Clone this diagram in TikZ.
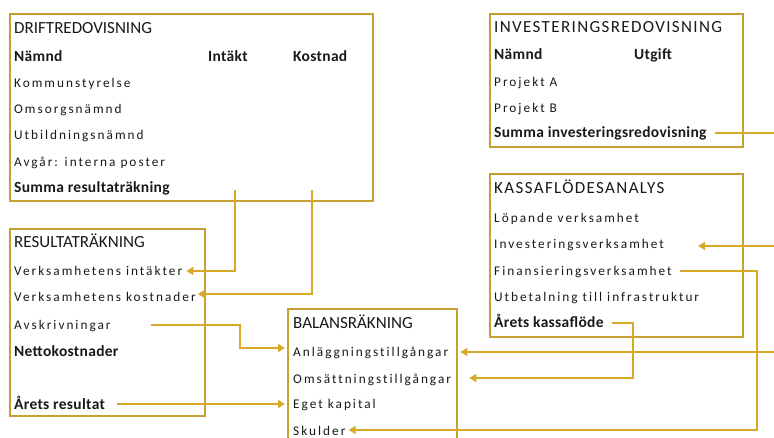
\documentclass[tikz,border=0pt]{standalone}
\usepackage{fontspec}
\setmainfont{Carlito}
\newfontfamily\rowfont[LetterSpace=15,Ligatures=NoCommon]{Carlito}
\newfontfamily\headfont[LetterSpace=2]{Carlito}
\newfontfamily\widefont[LetterSpace=8]{Carlito}
\usepackage{tikz}
\usetikzlibrary{arrows.meta}
\definecolor{boxgold}{RGB}{199,159,50}
\definecolor{linegold}{RGB}{216,169,38}
\definecolor{textdark}{RGB}{25,25,25}

\begin{document}
\begin{tikzpicture}[x=1pt, y=-1pt]
    \tikzstyle{box} = [rectangle, draw=boxgold, line width=2.4pt, anchor=north west, inner sep=0pt]
    \tikzstyle{row} = [anchor=west, inner sep=0pt, text height=10pt, text depth=0pt, text=textdark, font=\rowfont\fontsize{13.3}{16}\selectfont]
    \tikzstyle{title} = [row, font=\fontsize{17}{20}\selectfont]
    \tikzstyle{widetitle} = [row, font=\widefont\fontsize{17}{20}\selectfont]
    \tikzstyle{head} = [row, font=\headfont\bfseries\fontsize{15.5}{18}\selectfont]
    \tikzstyle{link} = [draw=linegold, line width=2pt]
    \tikzstyle{flow} = [link, -{Triangle[length=7pt,width=8pt]}]

    \useasboundingbox (0,0) rectangle (774,438);
    \clip (0,0) rectangle (774,438);

    % Boxes
    \node [box, minimum width=363pt, minimum height=187pt] (drift) at (9,13) {};
    \node [box, minimum width=195pt, minimum height=187pt] (result) at (9,228) {};
    \node [box, minimum width=169pt, minimum height=160pt] (balans) at (287,308) {};
    \node [box, minimum width=253pt, minimum height=133pt] (invest) at (489,13) {};
    \node [box, minimum width=253pt, minimum height=163pt] (kassa) at (489,173) {};

    % Driftredovisning
    \node [title] (drifttitle) at (14,29) {DRIFTREDOVISNING};
    \node [head] (dnamnd) at (14,57) {Nämnd};
    \node [head] (dintakt) at (208,57) {Intäkt};
    \node [head] (dkostnad) at (293,57) {Kostnad};
    \node [row] (kommun) at (14,83) {Kommunstyrelse};
    \node [row] (omsorg) at (14,109) {Omsorgsnämnd};
    \node [row] (utbild) at (14,135) {Utbildningsnämnd};
    \node [row] (avgar) at (14,162) {Avgår: interna poster};
    \node [head] (sresult) at (14,188) {Summa resultaträkning};

    % Resultaträkning
    \node [title] (resulttitle) at (14,243) {RESULTATRÄKNING};
    \node [row] (vintakt) at (14,271) {Verksamhetens intäkter};
    \node [row] (vkostn) at (14,297) {Verksamhetens kostnader};
    \node [row] (avskr) at (14,325) {Avskrivningar};
    \node [head] (netto) at (14,352) {Nettokostnader};
    \node [head] (aresult) at (14,404) {Årets resultat};

    % Balansräkning
    \node [title] (balanstitle) at (293,324) {BALANSRÄKNING};
    \node [row] (anl) at (293,352) {Anläggningstillgångar};
    \node [row] (oms) at (293,378) {Omsättningstillgångar};
    \node [row] (eget) at (293,403) {Eget kapital};
    \node [row] (skulder) at (293,430) {Skulder};

    % Investeringsredovisning
    \node [widetitle] (investtitle) at (494,28) {INVESTERINGSREDOVISNING};
    \node [head] (inamnd) at (494,55) {Nämnd};
    \node [head] (iutgift) at (634,55) {Utgift};
    \node [row] (proja) at (494,82) {Projekt A};
    \node [row] (projb) at (494,108) {Projekt B};
    \node [head] (sinv) at (494,133) {Summa investeringsredovisning};

    % Kassaflödesanalys
    \node [widetitle] (kassatitle) at (494,189) {KASSAFLÖDESANALYS};
    \node [row] (lopande) at (494,218) {Löpande verksamhet};
    \node [row] (invv) at (494,244) {Investeringsverksamhet};
    \node [row] (finv) at (494,271) {Finansieringsverksamhet};
    \node [row] (utbet) at (494,297) {Utbetalning till infrastruktur};
    \node [head] (akassa) at (494,323) {Årets kassaflöde};

    % Free ends and bends
    \coordinate (intakt) at (235,190);
    \coordinate (kostnad) at (312,190);
    \coordinate (avskrbend) at (240,348);
    \coordinate (invin) at (780,246);
    \coordinate (anlin) at (780,352);
    \coordinate (finbend) at (757,430);
    \coordinate (kassabend) at (633,378);

    % Connections
    \draw [flow] (intakt) |- ([xshift=4pt]vintakt.east);
    \draw [flow] (kostnad) |- ([xshift=2pt,yshift=3pt]vkostn.east);
    \draw [flow] ([xshift=40pt]avskr.east) -| (avskrbend) -- ([xshift=-2pt]avskrbend -| balans.west);
    \draw [flow] ([xshift=12pt]aresult.east) -- ([xshift=-2pt]aresult.east -| balans.west);
    \draw [link] ([xshift=8pt]sinv.east) -- ++(90,0);
    \draw [flow] (invin) -- ([xshift=34pt]invv.east |- invin);
    \draw [flow] ([xshift=8pt]finv.east) -| (finbend) -- ([xshift=3pt]skulder.east);
    \draw [flow] ([xshift=8pt]akassa.east) -| (kassabend) -- ([xshift=11pt]balans.east |- oms);
    \draw [flow] (anlin) -- ([xshift=2pt]balans.east |- anl);
\end{tikzpicture}
\end{document}
